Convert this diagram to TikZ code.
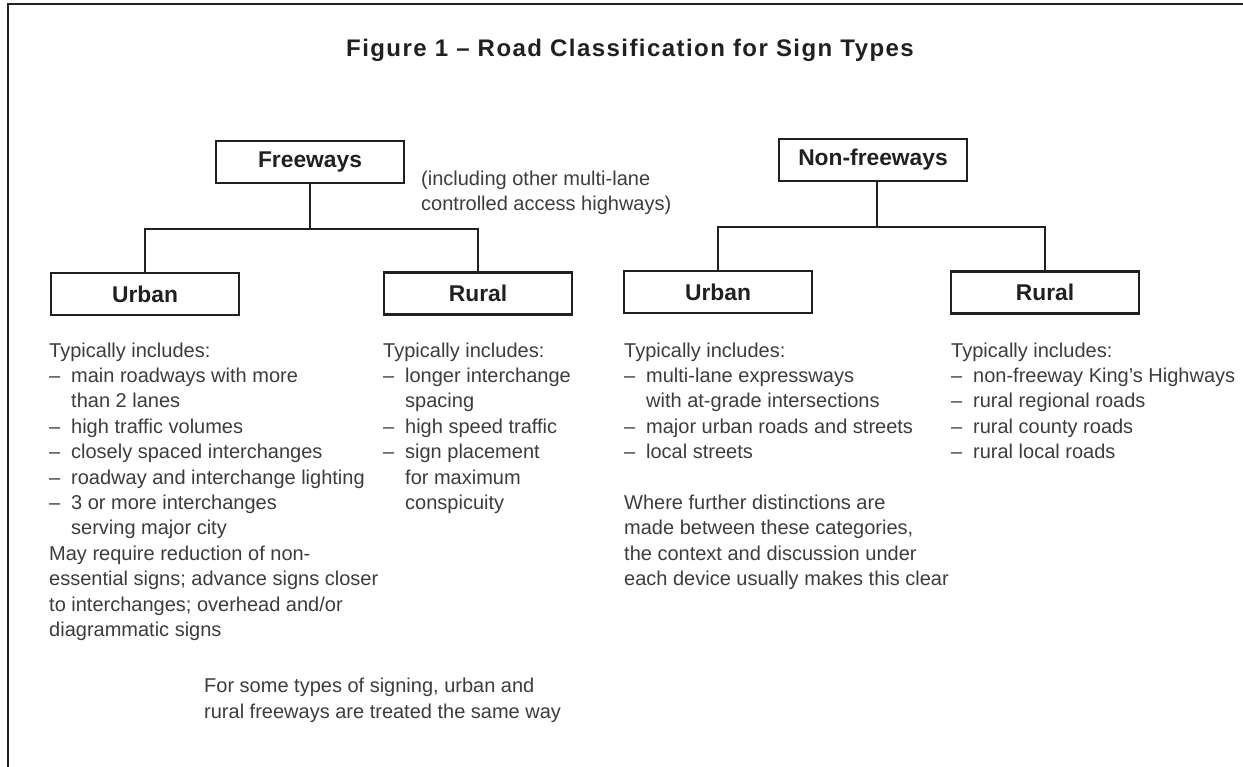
\documentclass[tikz,border=0pt]{standalone}
\usepackage{fontspec}
\setmainfont{Liberation Sans}
\usetikzlibrary{positioning}
\definecolor{ink}{HTML}{231F20}
\definecolor{txt}{HTML}{3C3C3C}
\tikzstyle{hd}=[draw=ink,line width=2.6pt,minimum width=188pt,minimum height=42pt,inner sep=0pt,text=ink,font=\fontsize{22.8}{26}\selectfont\bfseries]
% base west = baseline of the last line
\tikzstyle{tx}=[anchor=base west,align=left,inner sep=0pt,text=txt,font=\fontsize{20}{25.4}\selectfont]
\tikzstyle{ln}=[draw=ink,line width=2.6pt]
\newcommand{\itm}{\makebox[22pt][l]{--}}
\newcommand{\ind}{\hspace*{22pt}}

\begin{document}
\begin{tikzpicture}[x=1pt,y=-1pt]
  \useasboundingbox (0,0) rectangle (1243,767);
  \draw[ln] (8,767) -- (8,4) -- (1243,4);

  \node (t) [anchor=base,text=ink,font=\fontsize{24}{28}\selectfont\bfseries\addfontfeature{LetterSpace=6}] at (630,57) {Figure 1 -- Road Classification for Sign Types};

  % freeways
  \node [hd] (n1) at (310,162) {Freeways};
  \node [hd] (n2) at (145,294) {Urban};
  \node [hd] (n3) at (478,293.5) {Rural};
  \coordinate (b1) at (310,229);
  \draw[ln] (n1) -- (b1);
  \draw[ln] (n2.north) |- (b1) -| (n3.north);

  % non-freeways
  \node [hd] (n4) at (873,160) {Non-freeways};
  \node [hd] (n5) at (718,292) {Urban};
  \node [hd] (n6) at (1045,292.5) {Rural};
  \coordinate (b2) at (877,227);
  \draw[ln] (n4.south -| b2) -- (b2);
  \draw[ln] (n5.north) |- (b2) -| (n6.north);

  \node [tx] (a1) at (421,211) {(including other multi-lane\\controlled access highways)};

  \node [tx] (c1) at (49,636.4) {Typically includes:\\
    \itm main roadways with more\\
    \ind than 2 lanes\\
    \itm high traffic volumes\\
    \itm closely spaced interchanges\\
    \itm roadway and interchange lighting\\
    \itm 3 or more interchanges\\
    \ind serving major city\\
    May require reduction of non-\\
    essential signs; advance signs closer\\
    to interchanges; overhead and/or\\
    diagrammatic signs};
  \node [tx] (c2) at (383,509.4) {Typically includes:\\
    \itm longer interchange\\
    \ind spacing\\
    \itm high speed traffic\\
    \itm sign placement\\
    \ind for maximum\\
    \ind conspicuity};
  \node [tx] (c3) at (624,585.6) {Typically includes:\\
    \itm multi-lane expressways\\
    \ind with at-grade intersections\\
    \itm major urban roads and streets\\
    \itm local streets\\[25.4pt]
    Where further distinctions are\\
    made between these categories,\\
    the context and discussion under\\
    each device usually makes this clear};
  \node [tx] (c4) at (951,458.6) {Typically includes:\\
    \itm non-freeway King's Highways\\
    \itm rural regional roads\\
    \itm rural county roads\\
    \itm rural local roads};

  \node [tx] (c5) at (204,718) {For some types of signing, urban and\\rural freeways are treated the same way};
\end{tikzpicture}
\end{document}
